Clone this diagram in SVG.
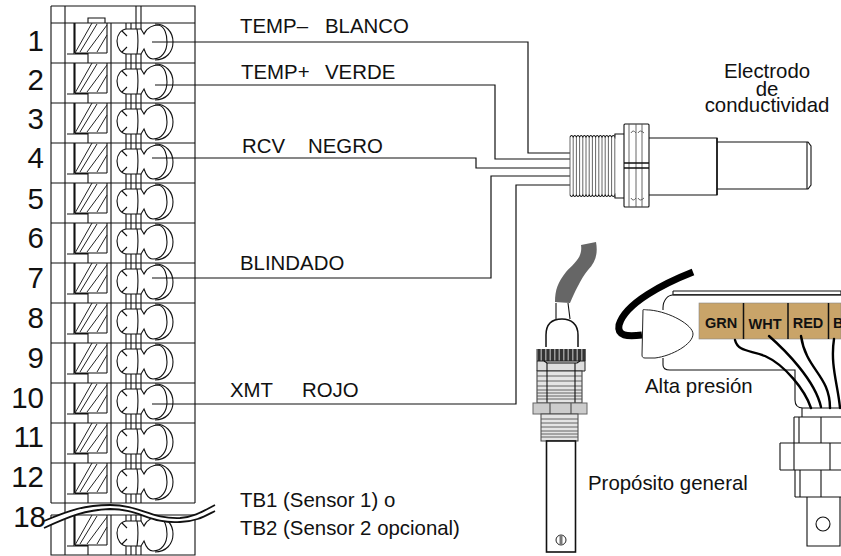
<svg xmlns="http://www.w3.org/2000/svg" width="841" height="556" viewBox="0 0 841 556">
<style>
.l{fill:none;stroke:#111;stroke-width:1.1}
.w{fill:none;stroke:#111;stroke-width:1.2}
.g{fill:none;stroke:#555;stroke-width:.9}
.h{fill:none;stroke:#222;stroke-width:1}
.n{font:29.5px "Liberation Sans",Arial,sans-serif;fill:#111;text-anchor:end}
.t{font:20.4px "Liberation Sans",Arial,sans-serif;fill:#111}
.b{font:bold 14.5px "Liberation Sans",Arial,sans-serif;fill:#111;text-anchor:middle}
.k{fill:none;stroke:#000;stroke-width:2.4;stroke-linecap:round}
</style>
<defs>
<g id="cell">
<path class="l" d="M51 0H195M75 0V30M107 0V30M75 30H107M67 31H88V40M74 0V31M111 0V40"/>
<path class="h" d="M75 30L92 0M80 29L97 1M87 29L107 2M97 29L107 12"/>
<path class="l" d="M126 0V6M131 0V6M136 0V6M141 0V6M126 31V40M131 31V40M136 31V40M141 31V40"/>
<path class="l" d="M127 6H141L144 11C147 4 154 2 158 2C165 3 167 12 167 19C167 28 162 36 153 36C149 36 146 32 144 26L141 31H127C121 31 117 25 117 18C117 12 121 6 127 6Z"/>
<path class="l" d="M155 1C166 1 173 9 173 19C173 29 166 37 155 37M137 6C138 12 138 24 137 31M122 8L127 13M122 29L127 24"/>
</g>
</defs>
<g id="terminal-block">
<path class="l" d="M51 6H195V23M51 6V503M195 23V503M51 515V555H195V515M65 6V555M136 6V23M141 6V23M88 23V18H105V23"/>
<g id="tb1"><use href="#cell" y="23"/></g>
<g id="tb2"><use href="#cell" y="63"/></g>
<g id="tb3"><use href="#cell" y="103"/></g>
<g id="tb4"><use href="#cell" y="143"/></g>
<g id="tb5"><use href="#cell" y="183"/></g>
<g id="tb6"><use href="#cell" y="223"/></g>
<g id="tb7"><use href="#cell" y="263"/></g>
<g id="tb8"><use href="#cell" y="303"/></g>
<g id="tb9"><use href="#cell" y="343"/></g>
<g id="tb10"><use href="#cell" y="383"/></g>
<g id="tb11"><use href="#cell" y="423"/></g>
<g id="tb12"><use href="#cell" y="463"/></g>
<path class="l" d="M51 503H195"/>
<g id="tb18"><use href="#cell" y="515"/></g>
<path d="M44 521C70 510 85 505 110 505C140 505 150 519 180 518C195 517 205 510 215 505V511C205 516 195 522 180 522C150 524 140 509 110 509C85 510 70 516 44 528Z" fill="#fff"/>
<path d="M44 521C70 510 85 505 110 505C140 505 150 519 180 518C195 517 205 510 215 505M44 528C70 516 85 510 110 509C140 509 150 524 180 522C195 522 205 516 215 511" fill="none" stroke="#111" stroke-width="1.8"/>
<g class="n"><text x="44" y="51">1</text><text x="44" y="90">2</text><text x="44" y="129">3</text><text x="44" y="168">4</text><text x="44" y="209">5</text><text x="44" y="248">6</text><text x="44" y="288">7</text><text x="44" y="328">8</text><text x="44" y="368">9</text><text x="44" y="408">10</text><text x="44" y="447">11</text><text x="44" y="487">12</text><text x="46" y="527">18</text></g>
</g>
<g id="connectors">
<path class="w" d="M152 42H528V153H570"/>
<path class="w" d="M155 85H495V159H570"/>
<path class="w" d="M152 158H476V168H570"/>
<path class="w" d="M152 278H491V176H570"/>
<path class="w" d="M152 404H516V185H570"/>
</g>
<g id="labels">
<text class="t" x="240" y="33">TEMP–</text><text class="t" x="325" y="33">BLANCO</text>
<text class="t" x="241" y="79">TEMP+</text><text class="t" x="325" y="79">VERDE</text>
<text class="t" x="242" y="153">RCV</text><text class="t" x="308" y="153">NEGRO</text>
<text class="t" x="240" y="270">BLINDADO</text>
<text class="t" x="230" y="397">XMT</text><text class="t" x="302" y="397">ROJO</text>
<text class="t" x="240" y="507">TB1 (Sensor 1) o</text>
<text class="t" x="240" y="535">TB2 (Sensor 2 opcional)</text>
</g>
<g id="electrodo">
<path class="l" d="M570 137q1.6-3 3.2 0q1.6-3 3.2 0q1.6-3 3.2 0q1.6-3 3.2 0q1.6-3 3.2 0q1.6-3 3.2 0q1.6-3 3.2 0q1.6-3 3.2 0q1.6-3 3.2 0q1.6-3 3.2 0q1.6-3 3.2 0q1.6-3 3.2 0q1.6-3 3.2 0q1.6-3 3.2 0L615 134H624"/>
<path class="l" d="M570 195q1.6 3 3.2 0q1.6 3 3.2 0q1.6 3 3.2 0q1.6 3 3.2 0q1.6 3 3.2 0q1.6 3 3.2 0q1.6 3 3.2 0q1.6 3 3.2 0q1.6 3 3.2 0q1.6 3 3.2 0q1.6 3 3.2 0q1.6 3 3.2 0q1.6 3 3.2 0q1.6 3 3.2 0L615 198H624"/>
<path class="g" d="M570 137V195M573.2 137V195M576.4 137V195M579.6 137V195M582.8 137V195M586 137V195M589.2 137V195M592.4 137V195M595.6 137V195M598.8 137V195M602 137V195M605.2 137V195M608.4 137V195M611.6 137V195M614.8 134V198"/>
<rect class="l" x="624" y="124" width="25" height="83" rx="1"/>
<path class="g" d="M629 124V207M636 124V207M642 124V207M631 133Q633 129 636 133M638 133Q640 129 644 133M631 198Q633 202 636 198M638 198Q640 202 644 198"/>
<path d="M624 163H649M624 168H649" fill="none" stroke="#111" stroke-width="1.3"/>
<path class="l" d="M649 138H717V195H649"/>
<path d="M717 138V195" fill="none" stroke="#111" stroke-width="1.5"/>
<path class="l" d="M717 142H808L811 146V185L808 189H717M807 142V189"/>
<text class="t" x="767" y="78" text-anchor="middle">Electrodo</text>
<text class="t" x="767" y="96" text-anchor="middle">de</text>
<text class="t" x="767" y="112" text-anchor="middle">conductividad</text>
</g>
<g id="proposito-general">
<path d="M555 302C555 290 558 282 566 272C573 264 583 258 581 245L596 242C598 253 596 262 588 270C580 280 575 292 570 303Z" fill="#666"/>
<path class="l" d="M556 303L556 319M568 303L570 319"/>
<path d="M546 347V335C546 323 553 319 562 319C571 319 578 324 578 335V347" fill="none" stroke="#111" stroke-width="1.5"/>
<rect x="536" y="349" width="50" height="12" fill="#333"/>
<path d="M536 355H586" fill="none" stroke="#999" stroke-width="12" stroke-dasharray="1.5 3"/>
<path d="M537 361H585V371H537Z" fill="#ddd" stroke="#222"/>
<path class="l" d="M544 361L547 363H577L580 361"/>
<rect x="537" y="371" width="45" height="32" fill="#e4e4e4" stroke="#333"/>
<path class="g" d="M537 376H582M537 381H582M537 386H582M537 390H582M537 393H582M537 396H582M537 399H582"/>
<path class="l" d="M547 363V403M575 363V403"/>
<rect x="533" y="403" width="54" height="11" fill="#ccc" stroke="#666"/>
<path d="M550 403V414M571 403V414" fill="none" stroke="#555" stroke-width="1.2"/>
<rect x="541" y="414" width="37" height="27" fill="#e4e4e4" stroke="#444"/>
<path class="g" d="M541 419H578M541 423H578M541 427H578M541 431H578M541 434H578M541 437H578"/>
<rect x="546.500" y="441" width="29" height="111" fill="#fff" stroke="#111" stroke-width="1.6"/>
<circle cx="561" cy="540" r="5" fill="#fff" stroke="#222"/>
<rect x="559.500" y="535" width="3" height="10" fill="#777"/>
<text class="t" x="588" y="490">Propósito general</text>
</g>
<g id="alta-presion">
<path d="M693 272C665 283 625 303 619 325C617 336 627 337 642 335" fill="none" stroke="#000" stroke-width="7"/>
<path class="l" d="M673 295C668 295 663 300 663 308V310M663 358V365C663 370 668 370 670 370H795V400C795 405 798 408 803 408H841"/>
<path class="l" d="M673 291V294.500H841V291H673"/>
<path d="M673 295H841" stroke="#333" stroke-width="1.500" fill="none"/>
<path d="M643 310C643 309 645 310 650 310C670 312 693 325 693 334C693 344 672 356 655 358H645C643 358 642 357 642 355Z" fill="#fff" stroke="#222"/>
<rect x="699" y="303" width="142" height="36" fill="#c9a469" stroke="#888" stroke-width=".6"/>
<path d="M743.500 303V339M788 303V339M828.500 303V339" stroke="#111" stroke-width="1.500"/>
<text class="b" x="721" y="328">GRN</text>
<text class="b" x="765" y="329">WHT</text>
<text class="b" x="808" y="328">RED</text>
<text class="b" x="833" y="328" style="text-anchor:start">B</text>
<path class="k" d="M735 340C738 352 750 350 765 356C785 365 805 390 811 408"/>
<path class="k" d="M769 336C785 350 815 380 821 407"/>
<path class="k" d="M801 336C806 370 830 375 830 408"/>
<path class="k" d="M834 339C830 365 838 385 840 408"/>
<path class="l" d="M802 408V417M794 417H841M794 417V443M799 417V443M821 417V443M780 443H841M780 443V470M794 443V470M830 443V470M780 470H841M795 470V497M800 470V497M821 470V497M795 497H841M807 497V546H840V497"/>
<circle class="l" cx="823" cy="524" r="7"/>
<text class="t" x="645" y="393">Alta presión</text>
</g>
</svg>
